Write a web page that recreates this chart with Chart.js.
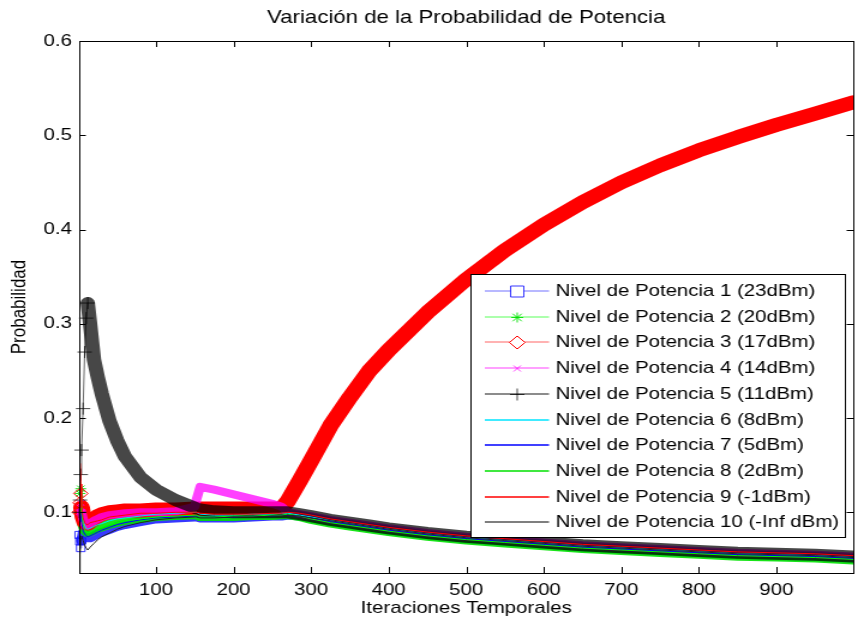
<!DOCTYPE html>
<html>
<head>
<meta charset="utf-8">
<script src="https://cdn.jsdelivr.net/npm/chart.js@4.4.1/dist/chart.umd.min.js"></script>
<style>
  html, body { margin: 0; padding: 0; background: #fff; overflow: hidden; }
  /* the figure is drawn narrow and stretched sideways, like the exported plot */
  #wrap { width: 718px; height: 622px; transform: scaleX(1.2); transform-origin: 0 0; }
</style>
</head>
<body>
<div id="wrap"><canvas id="graph" width="718" height="622"></canvas></div>
<script>
// sampled iterations and the probability of each power level at those iterations
const iteraciones = [1, 2, 3, 4, 6, 8, 10, 12, 15, 20, 25, 30, 40, 50, 60, 80, 100, 125, 150, 152,
  157, 175, 200, 225, 250, 262, 270, 285, 300, 325, 350, 375, 400, 450, 500, 550, 600, 650, 700, 750,
  800, 850, 900, 950, 999];

const nivel1 = [0.076, 0.069, 0.062, 0.070, 0.078, 0.078, 0.075, 0.073, 0.073, 0.075,
  0.077, 0.079, 0.082, 0.085, 0.087, 0.090, 0.093, 0.094, 0.095, 0.095,
  0.094, 0.094, 0.094, 0.095, 0.096, 0.096, 0.097, 0.096, 0.094, 0.090,
  0.087, 0.084, 0.081, 0.076, 0.072, 0.069, 0.066, 0.063, 0.061, 0.059,
  0.057, 0.055, 0.054, 0.053, 0.051];
const nivel2 = [0.100, 0.120, 0.125, 0.100, 0.088, 0.083, 0.080, 0.079, 0.080, 0.082,
  0.084, 0.085, 0.088, 0.090, 0.092, 0.094, 0.096, 0.097, 0.098, 0.098,
  0.096, 0.096, 0.096, 0.097, 0.097, 0.098, 0.098, 0.096, 0.093, 0.089,
  0.086, 0.083, 0.080, 0.075, 0.071, 0.068, 0.065, 0.062, 0.060, 0.058,
  0.056, 0.054, 0.053, 0.052, 0.050];
const nivel3 = [0.100, 0.110, 0.120, 0.105, 0.095, 0.090, 0.088, 0.088, 0.090, 0.093,
  0.096, 0.098, 0.100, 0.101, 0.102, 0.102, 0.103, 0.103, 0.104, 0.104,
  0.104, 0.104, 0.104, 0.104, 0.104, 0.104, 0.112, 0.133, 0.155, 0.192,
  0.222, 0.250, 0.272, 0.312, 0.347, 0.378, 0.405, 0.429, 0.450, 0.468,
  0.484, 0.498, 0.511, 0.523, 0.535];
const nivel4 = [0.100, 0.105, 0.110, 0.100, 0.093, 0.088, 0.086, 0.086, 0.088, 0.091,
  0.093, 0.095, 0.097, 0.098, 0.099, 0.100, 0.100, 0.101, 0.106, 0.113,
  0.127, 0.124, 0.119, 0.114, 0.109, 0.106, 0.100, 0.098, 0.096, 0.092,
  0.089, 0.086, 0.083, 0.078, 0.074, 0.071, 0.068, 0.065, 0.063, 0.061,
  0.059, 0.057, 0.056, 0.055, 0.053];
const nivel5 = [0.100, 0.113, 0.140, 0.166, 0.210, 0.270, 0.306, 0.322, 0.300, 0.262,
  0.243, 0.226, 0.197, 0.176, 0.159, 0.137, 0.124, 0.113, 0.105, 0.104,
  0.103, 0.101, 0.100, 0.100, 0.100, 0.100, 0.100, 0.098, 0.096, 0.092,
  0.089, 0.086, 0.083, 0.078, 0.074, 0.071, 0.068, 0.065, 0.063, 0.061,
  0.059, 0.057, 0.056, 0.055, 0.053];
const nivel6 = [0.100, 0.110, 0.120, 0.105, 0.092, 0.086, 0.083, 0.082, 0.083, 0.085,
  0.087, 0.088, 0.091, 0.093, 0.094, 0.096, 0.098, 0.099, 0.100, 0.100,
  0.098, 0.097, 0.097, 0.098, 0.098, 0.099, 0.099, 0.097, 0.095, 0.091,
  0.088, 0.085, 0.082, 0.077, 0.073, 0.070, 0.067, 0.064, 0.062, 0.060,
  0.058, 0.056, 0.055, 0.054, 0.052];
const nivel7 = [0.090, 0.100, 0.105, 0.090, 0.080, 0.077, 0.075, 0.074, 0.075, 0.077,
  0.079, 0.081, 0.084, 0.087, 0.089, 0.092, 0.094, 0.095, 0.096, 0.096,
  0.095, 0.095, 0.095, 0.096, 0.096, 0.097, 0.097, 0.096, 0.094, 0.090,
  0.087, 0.084, 0.081, 0.076, 0.072, 0.069, 0.066, 0.063, 0.061, 0.059,
  0.057, 0.055, 0.054, 0.053, 0.051];
const nivel8 = [0.100, 0.133, 0.120, 0.100, 0.087, 0.082, 0.079, 0.078, 0.079, 0.081,
  0.083, 0.084, 0.087, 0.089, 0.091, 0.093, 0.095, 0.096, 0.097, 0.097,
  0.095, 0.095, 0.096, 0.096, 0.097, 0.097, 0.098, 0.096, 0.093, 0.089,
  0.086, 0.083, 0.080, 0.075, 0.071, 0.068, 0.065, 0.062, 0.060, 0.058,
  0.056, 0.054, 0.053, 0.052, 0.050];
const nivel9 = [0.100, 0.152, 0.130, 0.105, 0.094, 0.089, 0.087, 0.087, 0.089, 0.090,
  0.091, 0.092, 0.095, 0.096, 0.097, 0.099, 0.099, 0.100, 0.100, 0.100,
  0.099, 0.098, 0.098, 0.098, 0.099, 0.099, 0.100, 0.099, 0.097, 0.093,
  0.090, 0.087, 0.084, 0.079, 0.075, 0.072, 0.069, 0.066, 0.064, 0.062,
  0.060, 0.058, 0.057, 0.056, 0.054];
const nivel10 = [0.036, 0.055, 0.072, 0.075, 0.070, 0.065, 0.062, 0.060, 0.063, 0.067,
  0.071, 0.074, 0.078, 0.082, 0.085, 0.089, 0.092, 0.094, 0.095, 0.095,
  0.094, 0.094, 0.095, 0.095, 0.096, 0.096, 0.097, 0.096, 0.094, 0.091,
  0.088, 0.085, 0.082, 0.077, 0.073, 0.070, 0.067, 0.064, 0.062, 0.060,
  0.058, 0.056, 0.055, 0.054, 0.052];

const etiquetas = [
  'Nivel de Potencia 1 (23dBm)', 'Nivel de Potencia 2 (20dBm)', 'Nivel de Potencia 3 (17dBm)',
  'Nivel de Potencia 4 (14dBm)', 'Nivel de Potencia 5 (11dBm)', 'Nivel de Potencia 6 (8dBm)',
  'Nivel de Potencia 7 (5dBm)', 'Nivel de Potencia 8 (2dBm)', 'Nivel de Potencia 9 (-1dBm)',
  'Nivel de Potencia 10 (-Inf dBm)'
];
const titulo = 'Variación de la Probabilidad de Potencia';
const ticksX = [100, 200, 300, 400, 500, 600, 700, 800, 900];
const ticksY = [0.1, 0.2, 0.3, 0.4, 0.5, 0.6];

const series = [nivel1, nivel2, nivel3, nivel4, nivel5, nivel6, nivel7, nivel8, nivel9, nivel10];

// color = band of markers, linea = thin line, banda = band width once markers pile up
const estilos = [
  { color: 'rgba(20,20,255,0.85)', linea: '#a0a0ff', marca: 'rect', radio: 5, rLey: 5.5, banda: 9, desde: 4 },
  { color: 'rgba(0,225,0,0.9)', linea: '#90ff90', marca: 'star', radio: 4.5, rLey: 5, banda: 10, desde: 4 },
  { color: '#ff0000', linea: '#ff9999', marca: 'rectRot', radio: 6, rLey: 6.5, banda: 14, desde: 4 },
  { color: 'rgba(255,0,255,0.75)', linea: '#ff80ff', marca: 'crossRot', radio: 4, rLey: 4, banda: 8, desde: 4 },
  { color: 'rgba(0,0,0,0.72)', linea: '#666666', marca: 'cross', radio: 6, rLey: 6, banda: 12, desde: 12 },
  { color: '#00e5ff', linea: '#00e5ff', banda: 1 },
  { color: '#0000ff', linea: '#0000ff', banda: 1 },
  { color: '#00ff00', linea: '#00e000', banda: 1 },
  { color: '#ff0000', linea: '#ff0000', banda: 1 },
  { color: '#222222', linea: '#555555', banda: 1 }
];

const fuente = '"Liberation Sans", Arial, sans-serif';
Chart.defaults.font.family = fuente;
Chart.defaults.color = '#000';

const datasets = series.map((serie, i) => {
  const e = estilos[i];
  return {
    label: etiquetas[i],
    data: iteraciones.map((x, k) => ({ x: x, y: serie[k] })),
    borderColor: e.color,
    backgroundColor: 'rgba(0,0,0,0)',
    borderWidth: 1,
    borderJoinStyle: 'round',
    borderCapStyle: 'round',
    segment: {
      borderWidth: ctx => (e.marca && ctx.p0.parsed.x >= e.desde) ? e.banda : 1,
      borderColor: ctx => (e.marca && ctx.p0.parsed.x < e.desde) ? e.linea : e.color
    },
    pointStyle: e.marca || false,
    pointRadius: ctx => (e.marca && ctx.raw && ctx.raw.x <= e.desde) ? e.radio : 0,
    pointBorderColor: e.marca ? e.color : undefined,
    pointBackgroundColor: 'rgba(0,0,0,0)',
    pointBorderWidth: 1,
    tension: 0,
    fill: false,
    clip: { left: 8, top: 0, right: 0, bottom: 0 },
    order: 9 - i
  };
});

function dibujarMarca(ctx, tipo, x, y, r, color) {
  ctx.save();
  ctx.strokeStyle = color;
  ctx.fillStyle = '#fff';
  ctx.lineWidth = 1;
  ctx.beginPath();
  if (tipo === 'rect') {
    ctx.rect(x - r, y - r, 2 * r, 2 * r);
    ctx.fill();
  } else if (tipo === 'rectRot') {
    ctx.moveTo(x, y - r); ctx.lineTo(x + r, y); ctx.lineTo(x, y + r); ctx.lineTo(x - r, y); ctx.closePath();
    ctx.fill();
  } else if (tipo === 'cross') {
    ctx.moveTo(x - r, y); ctx.lineTo(x + r, y); ctx.moveTo(x, y - r); ctx.lineTo(x, y + r);
  } else if (tipo === 'crossRot') {
    const d = r * 0.75;
    ctx.moveTo(x - d, y - d); ctx.lineTo(x + d, y + d); ctx.moveTo(x - d, y + d); ctx.lineTo(x + d, y - d);
  } else if (tipo === 'star') {
    const d = r * 0.75;
    ctx.moveTo(x - r, y); ctx.lineTo(x + r, y); ctx.moveTo(x, y - r); ctx.lineTo(x, y + r);
    ctx.moveTo(x - d, y - d); ctx.lineTo(x + d, y + d); ctx.moveTo(x - d, y + d); ctx.lineTo(x + d, y - d);
  }
  ctx.stroke();
  ctx.restore();
}

// title centred over the plot box, not over the whole canvas
const cabecera = {
  id: 'cabecera',
  afterDraw(chart) {
    const { ctx, chartArea: a } = chart;
    ctx.save();
    ctx.font = '18.5px ' + fuente;
    ctx.fillStyle = '#000';
    ctx.textAlign = 'center';
    ctx.textBaseline = 'middle';
    ctx.fillText(titulo, (a.left + a.right) / 2, 18);
    ctx.restore();
  }
};

// box around the axes with inward tick marks on all four sides
const marco = {
  id: 'marco',
  afterDatasetsDraw(chart) {
    const { ctx, chartArea: a, scales: { x, y } } = chart;
    ctx.save();
    ctx.strokeStyle = '#000';
    ctx.lineWidth = 1;
    ctx.beginPath();
    ticksX.forEach(v => {
      const px = Math.round(x.getPixelForValue(v)) + 0.5;
      ctx.moveTo(px, a.bottom); ctx.lineTo(px, a.bottom - 6);
      ctx.moveTo(px, a.top); ctx.lineTo(px, a.top + 6);
    });
    ticksY.forEach(v => {
      const py = Math.round(y.getPixelForValue(v)) + 0.5;
      ctx.moveTo(a.left, py); ctx.lineTo(a.left + 5.5, py);
      ctx.moveTo(a.right, py); ctx.lineTo(a.right - 5.5, py);
    });
    ctx.stroke();
    ctx.strokeRect(Math.round(a.left) + 0.5, Math.round(a.top) + 0.5,
      Math.round(a.right - a.left), Math.round(a.bottom - a.top));
    ctx.restore();
  }
};

// legend box inside the plot, lower right
const leyenda = {
  id: 'leyenda',
  afterDraw(chart) {
    const { ctx, chartArea: a } = chart;
    const w = 312, h = 263;
    const x0 = Math.round(a.right - 7.5 - w) + 0.5;
    const y0 = Math.round(a.bottom - 36 - h) + 0.5;
    ctx.save();
    ctx.fillStyle = '#fff';
    ctx.fillRect(x0, y0, w, h);
    ctx.strokeStyle = '#000';
    ctx.lineWidth = 1;
    ctx.strokeRect(x0, y0, w, h);
    ctx.font = '17px ' + fuente;
    ctx.textBaseline = 'middle';
    etiquetas.forEach((txt, i) => {
      const e = estilos[i];
      const cy = Math.round(y0 + 16.5 + 25.7 * i);
      ctx.strokeStyle = e.linea;
      ctx.lineWidth = 1.5;
      ctx.beginPath();
      ctx.moveTo(x0 + 11.5, cy);
      ctx.lineTo(x0 + 65, cy);
      ctx.stroke();
      if (e.marca) dibujarMarca(ctx, e.marca, x0 + 38.5, cy + 0.5, e.rLey, e.color);
      ctx.fillStyle = '#000';
      ctx.fillText(txt, x0 + 70.5, cy);
    });
    ctx.restore();
  }
};

new Chart(document.getElementById('graph'), {
  type: 'line',
  data: { datasets: datasets },
  options: {
    responsive: false,
    animation: false,
    layout: { padding: { top: 41, left: 0, right: 0, bottom: 0 } },
    plugins: {
      legend: { display: false },
      tooltip: { enabled: false },
      title: { display: false }
    },
    scales: {
      x: {
        type: 'linear',
        min: 1,
        max: 999,
        grid: { display: false, drawTicks: false },
        border: { display: false },
        afterBuildTicks: s => { s.ticks = ticksX.map(v => ({ value: v })); },
        afterFit: s => { s.height = 49; },
        ticks: { font: { size: 17 }, color: '#000', padding: 7, maxRotation: 0, autoSkip: false, callback: v => String(v) },
        title: { display: true, text: 'Iteraciones Temporales', font: { size: 17 }, color: '#000', padding: { top: 0, bottom: 3 } }
      },
      y: {
        min: 0.0356,
        max: 0.6,
        grid: { display: false, drawTicks: false },
        border: { display: false },
        afterBuildTicks: s => { s.ticks = ticksY.map(v => ({ value: v })); },
        afterFit: s => { s.width = 66; },
        ticks: { font: { size: 17 }, color: '#000', padding: 6, callback: v => v.toFixed(1) },
        title: { display: true, text: 'Probabilidad', font: { size: 17 }, color: '#000', padding: { top: 6, bottom: 0 } }
      }
    }
  },
  plugins: [marco, leyenda, cabecera]
});
</script>
</body>
</html>
